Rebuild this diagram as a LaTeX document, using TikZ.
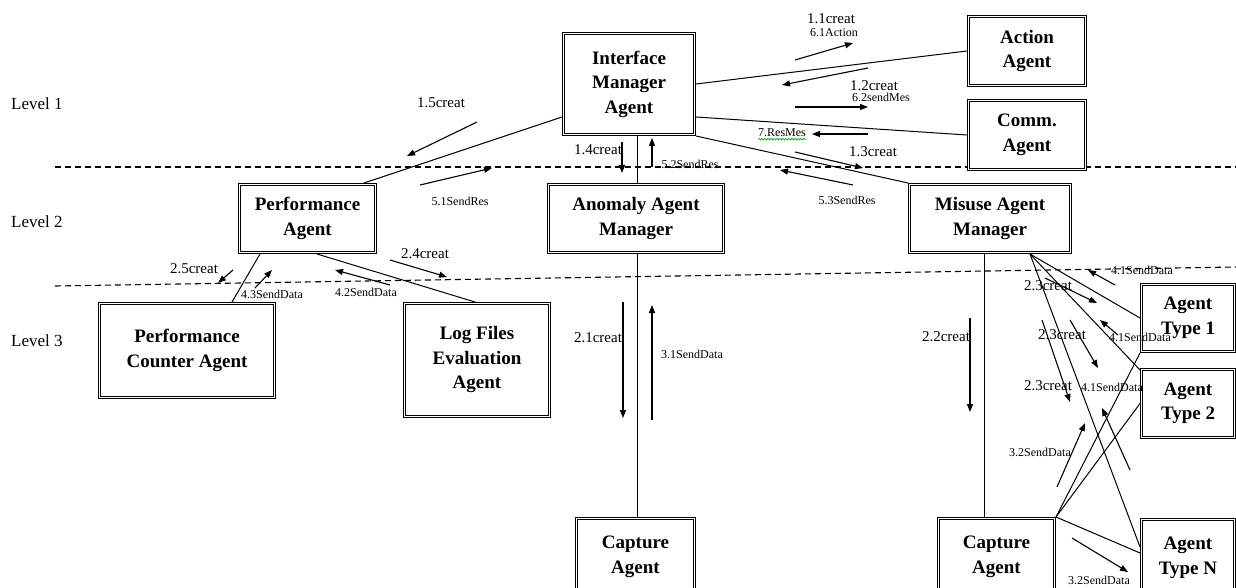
\documentclass[tikz,border=0pt]{standalone}
\usepackage{fontspec}
\setmainfont{Liberation Serif}
\usetikzlibrary{arrows.meta,calc,decorations.pathmorphing}
\begin{document}
\begin{tikzpicture}[x=1pt,y=-1pt,
  agent/.style={draw, double, line width=0.8pt, double distance=1.6pt, fill=white,
    inner sep=0pt, outer sep=1.6pt, align=center,
    font=\fontsize{19}{24.5}\selectfont\bfseries},
  conn/.style={line width=1pt},
  msg/.style={line width=1.1pt, -{Triangle[length=8pt,width=6pt]}},
  lvl/.style={dashed, line width=1.1pt, dash pattern=on 6pt off 4pt},
  creat/.style={inner sep=0pt, font=\fontsize{15}{15}\selectfont},
  small/.style={inner sep=0pt, font=\fontsize{12}{12}\selectfont},
  level/.style={inner sep=0pt, anchor=west, font=\fontsize{17}{17}\selectfont}]
\useasboundingbox (0,0) rectangle (1236,588);
\fill[white] (0,0) rectangle (1236,588);
\clip (0,0) rectangle (1236,588);

% level separators
\draw[lvl] (55,167) -- (1236,167);
\draw[lvl] (55,286) -- (1236,267);

% level captions
\node[level] (l1) at (11,104) {Level 1};
\node[level] (l2) at (11,222) {Level 2};
\node[level] (l3) at (11,341) {Level 3};

% agents
\node[agent, minimum width=130.8pt, minimum height=100.8pt] (ima) at (629,84) {Interface\\Manager\\Agent};
\node[agent, minimum width=116.8pt, minimum height=68.8pt] (act) at (1027,51) {Action\\Agent};
\node[agent, minimum width=116.8pt, minimum height=68.8pt] (comm) at (1027,135) {Comm.\\Agent};
\node[agent, minimum width=135.8pt, minimum height=67.8pt] (perf) at (307.5,218.5) {Performance\\Agent};
\node[agent, minimum width=174.8pt, minimum height=67.8pt] (anom) at (636,218.5) {Anomaly Agent\\Manager};
\node[agent, minimum width=160.8pt, minimum height=67.8pt] (mis) at (990,218.5) {Misuse Agent\\Manager};
\node[agent, minimum width=174.8pt, minimum height=93.8pt] (pca) at (187,350.5) {Performance\\Counter Agent};
\node[agent, minimum width=144.8pt, minimum height=112.8pt] (log) at (477,360) {Log Files\\Evaluation\\Agent};
\node[agent, minimum width=92.8pt, minimum height=66.8pt] (t1) at (1188,318) {Agent\\Type 1};
\node[agent, minimum width=92.8pt, minimum height=67.8pt] (t2) at (1188,403.5) {Agent\\Type 2};
\node[agent, minimum width=92.8pt, minimum height=76.8pt] (tn) at (1188,558) {Agent\\Type N};
\node[agent, minimum width=117.8pt, minimum height=76.8pt] (capm) at (635.5,557) {Capture\\Agent};
\node[agent, minimum width=115.8pt, minimum height=76.8pt] (capr) at (996.5,557) {Capture\\Agent};

% structural links
\begin{scope}[conn]
\draw (ima.east) -- (act.west);
\draw ([yshift=19pt]ima.south east) -- (comm.west);
\draw (ima.south east) -- (mis.north west);
\draw ([yshift=19pt]ima.south west) -- ([xshift=-13pt]perf.north east);
\draw ([xshift=1pt]anom.north) -- ([xshift=1pt]anom.north |- ima.south);
\draw ([xshift=1pt]anom.south) -- ([xshift=1pt]anom.south |- capm.north);
\draw ([xshift=-6pt]mis.south) -- ([xshift=-6pt]mis.south |- capr.north);
\draw ([xshift=-47.5pt]perf.south) -- ([xshift=45pt]pca.north);
\draw ([xshift=9.5pt]perf.south) -- ([xshift=-2pt]log.north);
\draw ([xshift=40pt]mis.south) -- (t1.west);
\draw ([xshift=40pt]mis.south) -- ([yshift=-2pt]t2.north west);
\draw ([xshift=40pt]mis.south) -- ([yshift=-29pt]tn.north west);
\draw (capr.north east) -- (t1.south west);
\draw (capr.north east) -- (t2.west);
\draw (capr.north east) -- ([yshift=5pt]tn.west);
\end{scope}

% messages, level 1
\draw[msg] (795,60) coordinate (m11t) -- (853,43) coordinate (m11h);
\draw[msg] (868,68) coordinate (m61t) -- (782,85) coordinate (m61h);
\draw[msg] (795,107) coordinate (m12t) -- (868,107) coordinate (m12h);
\draw[msg] (868,134) coordinate (m7t) -- (812,134) coordinate (m7h);
\draw[msg] (795,152) coordinate (m13t) -- (863,168) coordinate (m13h);
\draw[msg] (853,185) coordinate (m53t) -- (780,170) coordinate (m53h);
\draw[msg] (622,142) coordinate (m14t) -- (622,173) coordinate (m14h);
\draw[msg] (652,167) coordinate (m52t) -- (652,138) coordinate (m52h);
\draw[msg] (477,122) coordinate (m15t) -- (407,156) coordinate (m15h);
\draw[msg] (420,185) coordinate (m51t) -- (492,168) coordinate (m51h);

% messages, level 2 to level 3
\draw[msg] (390,260) coordinate (m24t) -- (447,277) coordinate (m24h);
\draw[msg] (390,285) coordinate (m42t) -- (335,270) coordinate (m42h);
\draw[msg] (233,270) coordinate (m25t) -- (218,283) coordinate (m25h);
\draw[msg] (255,288) coordinate (m43t) -- (272,270) coordinate (m43h);
\draw[msg] (623,302) coordinate (m21t) -- (623,418) coordinate (m21h);
\draw[msg] (652,420) coordinate (m31t) -- (652,305) coordinate (m31h);
\draw[msg] (970,318) coordinate (m22t) -- (970,412) coordinate (m22h);
\draw[msg] (1115,285) coordinate (m41at) -- (1088,270) coordinate (m41ah);
\draw[msg] (1045,278) coordinate (m23at) -- (1097,303) coordinate (m23ah);
\draw[msg] (1070,320) coordinate (m23bt) -- (1098,368) coordinate (m23bh);
\draw[msg] (1118,335) coordinate (m41bt) -- (1100,320) coordinate (m41bh);
\draw[msg] (1042,320) coordinate (m23ct) -- (1070,402) coordinate (m23ch);
\draw[msg] (1130,470) coordinate (m41ct) -- (1102,408) coordinate (m41ch);
\draw[msg] (1057,487) coordinate (m32at) -- (1085,423) coordinate (m32ah);
\draw[msg] (1072,538) coordinate (m32bt) -- (1128,572) coordinate (m32bh);

% message labels
\node[creat] (c11) at (831,19) {1.1creat};
\node[small] (s61) at (834,33) {6.1Action};
\node[creat] (c12) at (874,86) {1.2creat};
\node[small] (s62) at (881,97) {6.2sendMes};
\node[small] (s7) at (782,133) {7.ResMes};
\draw[green!60!black, line width=0.6pt, decorate,
  decoration={snake, amplitude=0.8pt, segment length=3pt}]
  ([yshift=-2pt]s7.south west) -- ([yshift=-2pt]s7.south east);
\node[creat] (c13) at (873,152) {1.3creat};
\node[small] (s53) at (847,200) {5.3SendRes};
\node[creat] (c14) at (598,150) {1.4creat};
\node[small] (s52) at (690,164) {5.2SendRes};
\node[creat] (c15) at (441,103) {1.5creat};
\node[small] (s51) at (460,201) {5.1SendRes};
\node[creat] (c24) at (425,254) {2.4creat};
\node[small] (s42) at (366,292) {4.2SendData};
\node[creat] (c25) at (194,269) {2.5creat};
\node[small] (s43) at (272,294) {4.3SendData};
\node[creat] (c21) at (598,338) {2.1creat};
\node[small] (s31) at (692,354) {3.1SendData};
\node[creat] (c22) at (946,337) {2.2creat};
\node[small] (s41a) at (1142,270) {4.1SendData};
\node[creat] (c23a) at (1048,286) {2.3creat};
\node[creat] (c23b) at (1062,335) {2.3creat};
\node[small] (s41b) at (1140,337) {4.1SendData};
\node[creat] (c23c) at (1048,386) {2.3creat};
\node[small] (s41c) at (1112,387) {4.1SendData};
\node[small] (s32a) at (1040,452) {3.2SendData};
\node[small] (s32b) at (1099,580) {3.2SendData};
\end{tikzpicture}
\end{document}
